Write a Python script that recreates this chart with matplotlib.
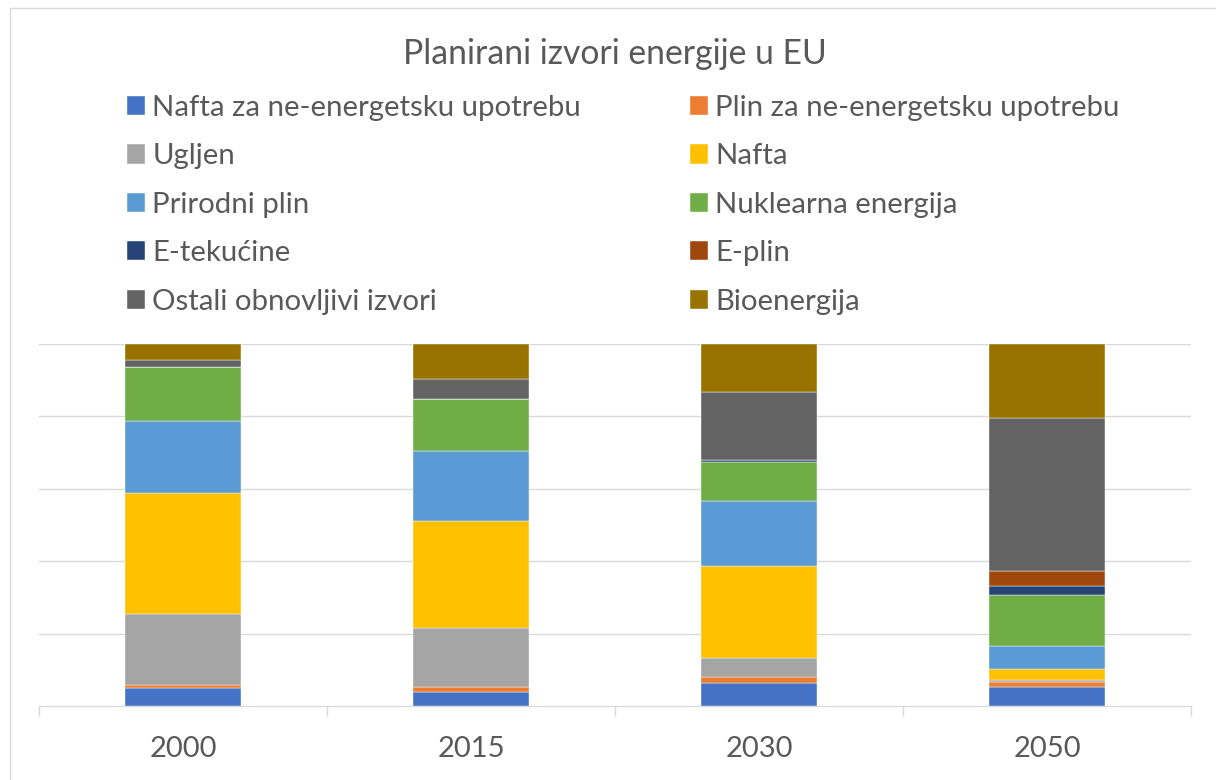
import numpy as np
import matplotlib.pyplot as plt
from matplotlib.patches import Rectangle

# data (share of each source per year, %)
years = ['2000', '2015', '2030', '2050']
series = ['Nafta za ne-energetsku upotrebu', 'Plin za ne-energetsku upotrebu',
          'Ugljen', 'Nafta', 'Prirodni plin', 'Nuklearna energija',
          'E-tekućine', 'E-plin', 'Ostali obnovljivi izvori', 'Bioenergija']
nafta_ne = [5.0, 3.8, 6.3, 5.2]
plin_ne = [0.7, 1.4, 1.6, 1.4]
ugljen = [19.6, 16.3, 5.3, 0.5]
nafta = [33.3, 29.5, 25.6, 3.0]
prirodni_plin = [19.8, 19.3, 17.9, 6.5]
nuklearna = [14.9, 14.3, 10.7, 14.1]
e_tekucine = [0.0, 0.0, 0.5, 2.5]
e_plin = [0.0, 0.0, 0.0, 4.1]
ostali_obn = [2.0, 5.7, 18.8, 42.2]
bioenergija = [4.4, 9.6, 13.3, 20.3]

colors = ['#4472C4', '#ED7D31', '#A5A5A5', '#FFC000', '#5B9BD5',
          '#70AD47', '#264478', '#9E480E', '#636363', '#997300']

values = np.array([nafta_ne, plin_ne, ugljen, nafta, prirodni_plin, nuklearna,
                   e_tekucine, e_plin, ostali_obn, bioenergija])
# 100% stacked, like the Excel chart
values = values / values.sum(axis=0) * 100

plt.rcParams['font.family'] = ['Lato', 'DejaVu Sans']
txt = '#595959'
grid = '#D9D9D9'

W, H = 1216, 780
fig = plt.figure(figsize=(W / 100, H / 100), dpi=100)
ax = fig.add_axes([39 / W, (H - 706) / H, 1152 / W, 362 / H])

x = np.arange(len(years))
bottom = np.zeros(len(years))
handles = []
for name, vals, col in zip(series, values, colors):
    b = ax.bar(x, vals, 0.4, bottom=bottom, color=col, label=name,
               edgecolor='white', linewidth=0.3, zorder=3)
    handles.append(b)
    bottom += vals

ax.set_xlim(-0.5, 3.5)
ax.set_ylim(0, 100)
ax.set_yticks([20, 40, 60, 80, 100])
ax.yaxis.grid(True, color=grid, linewidth=1.0, zorder=0)
ax.tick_params(axis='y', length=0, labelleft=False)
ax.set_xticks(x)
ax.set_xticklabels(years, fontsize=21, color=txt)
ax.set_xticks(np.arange(-0.5, 4, 1), minor=True)
ax.tick_params(axis='x', which='major', length=0, pad=21.5)
ax.tick_params(axis='x', which='minor', length=7.2, width=1.0, color=grid)
for s in ['left', 'right', 'top']:
    ax.spines[s].set_visible(False)
ax.spines['bottom'].set_color(grid)
ax.spines['bottom'].set_linewidth(1.0)

fig.text(615 / W, 1 - 64 / H, 'Planirani izvori energije u EU', ha='center',
         va='baseline', fontsize=24.3, color=txt)

# legend laid out row by row in two columns
common = dict(loc='upper left', frameon=False, borderpad=0, borderaxespad=0,
              handlelength=0.62, handleheight=0.62, handletextpad=0.24,
              labelspacing=0.76, fontsize=21.2, labelcolor=txt)
left = [0, 2, 4, 6, 8]
right = [1, 3, 5, 7, 9]
fig.legend([handles[i] for i in left], [series[i] for i in left],
           bbox_to_anchor=(127 / W, 1 - 95 / H), **common)
fig.legend([handles[i] for i in right], [series[i] for i in right],
           bbox_to_anchor=(690 / W, 1 - 95 / H), **common)

# chart-area border
fig.patches.append(Rectangle((10 / W, -0.1), 1.2, (H - 8) / H + 0.1,
                             transform=fig.transFigure, fill=False,
                             edgecolor=grid, linewidth=1.0))

fig.savefig('out.png', dpi=100)
